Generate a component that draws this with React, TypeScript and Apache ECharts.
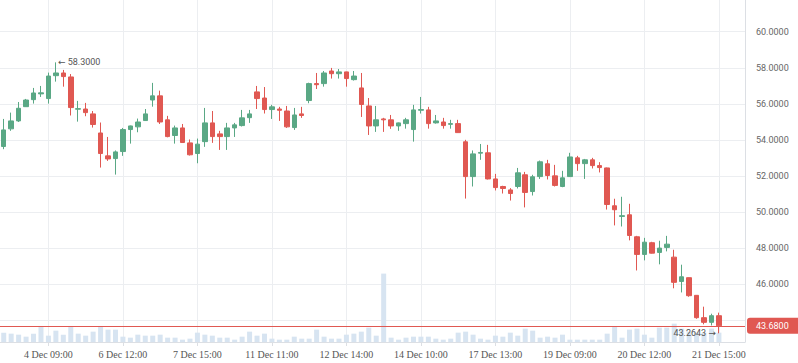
import React, { useEffect, useRef } from 'react';
import * as echarts from 'echarts';

const tickLabels = [
  '4 Dec 09:00', '6 Dec 12:00', '7 Dec 15:00', '11 Dec 11:00', '12 Dec 14:00',
  '14 Dec 10:00', '17 Dec 13:00', '19 Dec 09:00', '20 Dec 12:00', '21 Dec 15:00',
];

const opens = [
  53.63, 54.61, 55.05, 55.84, 56.23, 56.55, 56.29, 57.56, 57.71, 57.49,
  55.70, 55.71, 55.44, 54.38, 53.11, 52.96, 53.35, 54.57, 54.72, 55.07,
  56.21, 56.44, 55.11, 54.24, 54.66, 53.83, 53.24, 53.90, 54.94, 54.33,
  54.18, 54.66, 54.79, 55.23, 56.66, 56.32, 55.68, 55.71, 55.60, 54.68,
  55.44, 56.18, 57.12, 57.12, 57.82, 57.67, 57.77, 57.34, 56.88, 55.88,
  54.77, 55.16, 55.11, 54.77, 54.90, 54.57, 55.64, 55.66, 54.94, 54.99,
  54.86, 54.90, 53.89, 51.96, 53.26, 53.28, 51.83, 51.41, 51.22, 51.41,
  52.06, 51.13, 51.96, 52.67, 52.00, 51.41, 51.96, 53.00, 52.68, 52.89,
  52.57, 52.44, 50.34, 49.75, 49.84, 48.62, 47.64, 48.29, 47.75, 48.03,
  47.49, 46.14, 46.35, 45.37, 44.13, 43.87, 44.24,
];
const closes = [
  54.55, 55.05, 55.75, 56.21, 56.60, 56.61, 57.54, 57.71, 57.51, 55.79,
  55.73, 55.51, 54.85, 53.24, 52.94, 53.33, 54.57, 54.77, 54.99, 55.44,
  56.44, 54.99, 54.18, 54.66, 53.85, 53.17, 53.76, 54.94, 54.18, 54.18,
  54.66, 54.83, 55.22, 55.44, 56.29, 55.68, 55.83, 55.64, 54.72, 55.38,
  55.35, 57.12, 57.06, 57.71, 57.67, 57.77, 57.40, 57.54, 55.96, 54.77,
  55.11, 55.11, 54.77, 54.94, 55.11, 55.66, 55.68, 54.90, 55.05, 54.79,
  54.90, 54.40, 51.96, 53.22, 53.30, 51.83, 51.35, 51.30, 51.02, 52.17,
  51.08, 51.95, 52.78, 52.02, 51.47, 51.89, 53.05, 52.68, 52.89, 52.57,
  52.46, 50.41, 50.12, 49.79, 48.69, 47.64, 48.32, 47.71, 47.99, 48.21,
  46.09, 46.40, 45.35, 44.13, 43.87, 44.24, 43.68,
];
const lows = [
  53.48, 54.50, 54.99, 55.83, 56.01, 56.38, 56.01, 57.23, 56.95, 55.35,
  55.01, 55.31, 54.68, 52.46, 52.83, 52.07, 53.11, 53.79, 54.42, 55.05,
  55.84, 54.88, 54.14, 53.79, 53.84, 53.13, 52.70, 53.61, 53.83, 53.44,
  53.44, 54.16, 54.74, 54.94, 55.71, 55.46, 55.16, 55.05, 54.66, 54.55,
  55.22, 56.03, 56.82, 56.95, 57.40, 57.40, 56.95, 57.29, 55.27, 54.27,
  54.44, 54.44, 54.61, 54.50, 54.62, 53.90, 55.46, 54.62, 54.90, 54.62,
  54.62, 54.39, 50.74, 51.41, 52.89, 51.80, 51.19, 51.02, 50.63, 51.30,
  50.25, 50.91, 51.83, 51.80, 51.41, 51.37, 51.95, 52.28, 51.83, 52.41,
  52.19, 50.13, 49.25, 49.19, 48.42, 46.75, 47.31, 47.69, 47.09, 47.81,
  45.76, 45.53, 45.29, 44.07, 43.76, 43.70, 43.2643,
];
const highs = [
  55.16, 55.51, 56.10, 56.27, 56.88, 56.99, 57.73, 58.30, 57.88, 57.65,
  56.16, 56.05, 55.60, 54.96, 54.16, 53.41, 54.66, 54.79, 55.18, 55.71,
  57.16, 56.73, 55.33, 54.79, 54.88, 54.02, 54.07, 55.77, 55.60, 54.50,
  54.94, 54.94, 55.66, 55.66, 56.99, 56.93, 55.94, 55.83, 55.88, 55.77,
  55.83, 57.17, 57.71, 57.82, 57.99, 57.93, 57.78, 57.82, 57.71, 56.32,
  55.88, 55.22, 55.38, 54.96, 55.22, 55.94, 56.38, 55.83, 55.38, 55.22,
  55.11, 55.11, 54.00, 53.41, 53.77, 53.72, 52.11, 51.45, 51.32, 52.44,
  52.22, 52.06, 52.85, 52.89, 52.61, 52.28, 53.28, 53.11, 52.94, 53.00,
  52.76, 52.46, 50.73, 50.84, 50.45, 48.67, 48.56, 48.34, 48.40, 48.67,
  47.90, 47.07, 46.36, 45.38, 44.74, 44.35, 44.41,
];
const volumes = [
  2800, 2500, 2200, 1600, 2500, 4600, 1900, 3400, 2200, 4600,
  2500, 1900, 3100, 4600, 3700, 3700, 1600, 1300, 2200, 1900,
  1900, 2200, 1300, 1300, 700, 1000, 2800, 2200, 1900, 1300,
  1300, 700, 1600, 3100, 1900, 2500, 1000, 700, 700, 1600,
  1000, 1000, 3700, 1600, 1000, 1000, 2200, 2500, 3100, 4300,
  1900, 20500, 1300, 700, 1300, 1600, 1600, 1600, 1000, 700,
  1000, 2800, 3100, 2200, 1000, 700, 1900, 1600, 2800, 1900,
  4000, 3400, 1300, 1600, 1300, 2200, 700, 700, 700, 700,
  700, 2500, 4600, 1300, 3700, 4000, 2200, 1300, 4300, 4300,
  5500, 4000, 3100, 2800, 2800, 4000, 2800,
];
const lastPrice = 43.68;

const UP = '#5aa885';
const DOWN = '#e05852';
const GRID_LINE = '#eceef1';
const AXIS_LINE = '#dcdfe4';

export default function App() {
  const ref = useRef<HTMLDivElement>(null);

  useEffect(() => {
    if (!ref.current) return;
    const chart = echarts.init(ref.current, null, { renderer: 'svg' });
    const slotCount = 100;
    const categories = Array.from({ length: slotCount }, (_, i) =>
      i % 10 === 6 && tickLabels[(i - 6) / 10] ? tickLabels[(i - 6) / 10] : 'slot' + i
    );
    const ohlc = opens.map((o, i) => [o, closes[i], lows[i], highs[i]]);
    const showAt = (i: number) => i % 10 === 6;

    const arrowStyle = { fontFamily: 'DejaVu Sans', fontSize: 9, color: '#555555' };
    const numStyle = { fontFamily: 'Roboto', fontSize: 9, color: '#555555' };

    chart.setOption({
      animation: false,
      backgroundColor: '#ffffff',
      grid: { left: 0, right: 53, top: 0, bottom: 21, containLabel: false, outerBoundsMode: 'none' },
      xAxis: {
        type: 'category',
        data: categories,
        boundaryGap: true,
        axisLine: { show: true, lineStyle: { color: AXIS_LINE } },
        axisTick: { show: true, interval: showAt, alignWithLabel: true, length: 4, lineStyle: { color: AXIS_LINE } },
        axisLabel: {
          interval: showAt,
          fontFamily: 'Liberation Serif',
          fontSize: 10,
          color: '#555555',
          margin: 7,
        },
        splitLine: { show: true, interval: showAt, alignWithLabel: true, lineStyle: { color: GRID_LINE } },
      },
      yAxis: [
        {
          type: 'value',
          position: 'right',
          min: 42.78,
          max: 61.76,
          splitNumber: 9,
          axisLine: { show: true, lineStyle: { color: AXIS_LINE } },
          axisTick: { show: false },
          axisLabel: {
            // the last-price tag hides the tick label it overlaps
            formatter: (v: number) => (Math.abs(v - lastPrice) < 0.6 ? '' : v.toFixed(4)),
            showMinLabel: false,
            showMaxLabel: false,
            margin: 11,
            fontSize: 9,
            fontFamily: 'Roboto',
            color: '#666666',
          },
          splitLine: { show: true, showMinLine: false, showMaxLine: false, lineStyle: { color: GRID_LINE } },
        },
        {
          type: 'value',
          show: false,
          min: 0,
          max: (e: { max: number }) => e.max * 5,
          splitLine: { show: false },
        },
      ],
      series: [
        {
          type: 'bar',
          name: 'Volume',
          xAxisIndex: 0,
          yAxisIndex: 1,
          data: volumes,
          barWidth: 5,
          itemStyle: { color: '#d7e4f1' },
          z: 1,
          silent: true,
        },
        {
          type: 'candlestick',
          name: 'Price',
          xAxisIndex: 0,
          yAxisIndex: 0,
          data: ohlc,
          barWidth: 5,
          z: 3,
          itemStyle: {
            color: UP,
            color0: DOWN,
            borderColor: UP,
            borderColor0: DOWN,
            borderWidth: 1,
          },
          markPoint: {
            symbol: 'circle',
            symbolSize: 0,
            itemStyle: { color: 'rgba(0,0,0,0)' },
            label: { fontSize: 9, fontFamily: 'Roboto', color: '#555555' },
            data: [
              {
                type: 'max',
                valueDim: 'highest',
                label: {
                  position: 'right',
                  distance: 2,
                  formatter: (p: any) => '{a|\u2190} {n|' + Number(p.value).toFixed(4) + '}',
                  rich: { a: arrowStyle, n: numStyle },
                },
              },
              {
                type: 'min',
                valueDim: 'lowest',
                label: {
                  position: 'left',
                  distance: 3,
                  formatter: (p: any) => '{n|' + Number(p.value).toFixed(4) + '} {a|\u2192}',
                  rich: { a: arrowStyle, n: numStyle },
                },
              },
            ],
          },
          markLine: {
            silent: true,
            symbol: ['none', 'none'],
            z: 5,
            lineStyle: { color: DOWN, width: 1, type: 'solid' },
            label: {
              show: true,
              position: 'end',
              distance: 2,
              formatter: () => lastPrice.toFixed(4),
              color: '#ffffff',
              backgroundColor: DOWN,
              fontSize: 9,
              fontFamily: 'Roboto',
              lineHeight: 10,
              padding: [3, 14, 3, 9],
              borderRadius: 3,
            },
            data: [{ yAxis: lastPrice }],
          },
        },
      ],
    });

    return () => chart.dispose();
  }, []);

  return (
    <div
      ref={ref}
      style={{ position: 'fixed', left: 0, top: 0, width: 798, height: 363 }}
    />
  );
}
